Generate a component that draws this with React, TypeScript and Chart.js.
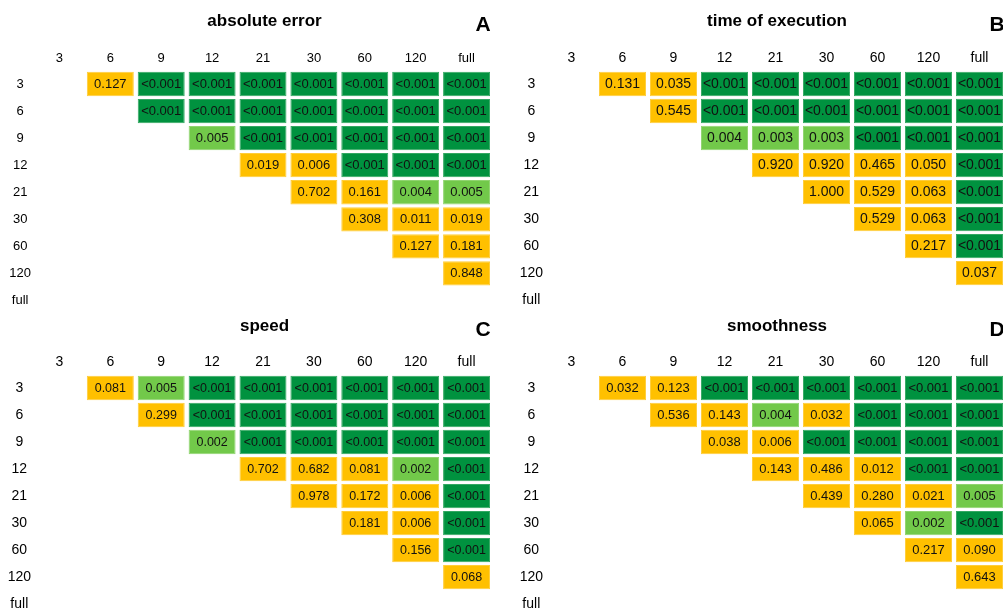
import React, { useEffect, useRef } from "react";
import { Chart, registerables } from "chart.js";

Chart.register(...registerables);

// Factor levels (columns and rows share the same labels)
const levels: string[] = ["3", "6", "9", "12", "21", "30", "60", "120", "full"];

// Upper-triangular p-values: row i starts at column i+1
const absoluteError: string[][] = [
  ["0.127", "<0.001", "<0.001", "<0.001", "<0.001", "<0.001", "<0.001", "<0.001"],
  ["<0.001", "<0.001", "<0.001", "<0.001", "<0.001", "<0.001", "<0.001"],
  ["0.005", "<0.001", "<0.001", "<0.001", "<0.001", "<0.001"],
  ["0.019", "0.006", "<0.001", "<0.001", "<0.001"],
  ["0.702", "0.161", "0.004", "0.005"],
  ["0.308", "0.011", "0.019"],
  ["0.127", "0.181"],
  ["0.848"],
];

const timeOfExecution: string[][] = [
  ["0.131", "0.035", "<0.001", "<0.001", "<0.001", "<0.001", "<0.001", "<0.001"],
  ["0.545", "<0.001", "<0.001", "<0.001", "<0.001", "<0.001", "<0.001"],
  ["0.004", "0.003", "0.003", "<0.001", "<0.001", "<0.001"],
  ["0.920", "0.920", "0.465", "0.050", "<0.001"],
  ["1.000", "0.529", "0.063", "<0.001"],
  ["0.529", "0.063", "<0.001"],
  ["0.217", "<0.001"],
  ["0.037"],
];

const speed: string[][] = [
  ["0.081", "0.005", "<0.001", "<0.001", "<0.001", "<0.001", "<0.001", "<0.001"],
  ["0.299", "<0.001", "<0.001", "<0.001", "<0.001", "<0.001", "<0.001"],
  ["0.002", "<0.001", "<0.001", "<0.001", "<0.001", "<0.001"],
  ["0.702", "0.682", "0.081", "0.002", "<0.001"],
  ["0.978", "0.172", "0.006", "<0.001"],
  ["0.181", "0.006", "<0.001"],
  ["0.156", "<0.001"],
  ["0.068"],
];

const smoothness: string[][] = [
  ["0.032", "0.123", "<0.001", "<0.001", "<0.001", "<0.001", "<0.001", "<0.001"],
  ["0.536", "0.143", "0.004", "0.032", "<0.001", "<0.001", "<0.001"],
  ["0.038", "0.006", "<0.001", "<0.001", "<0.001", "<0.001"],
  ["0.143", "0.486", "0.012", "<0.001", "<0.001"],
  ["0.439", "0.280", "0.021", "0.005"],
  ["0.065", "0.002", "<0.001"],
  ["0.217", "0.090"],
  ["0.643"],
];

const DARK = "#00923F";
const DARK_EDGE = "#33A862";
const LIGHT = "#72C94A";
const LIGHT_EDGE = "#90D46F";
const ORANGE = "#FFC000";
const ORANGE_EDGE = "#FFCD3A";
const FONT = "'Liberation Sans', Arial, Helvetica, sans-serif";

function cellFill(v: string | null): string {
  if (!v) return "rgba(0,0,0,0)";
  if (v.startsWith("<")) return DARK;
  return parseFloat(v) < 0.05 / 9 ? LIGHT : ORANGE;
}
function cellEdge(v: string | null): string {
  if (!v) return "rgba(0,0,0,0)";
  if (v.startsWith("<")) return DARK_EDGE;
  return parseFloat(v) < 0.05 / 9 ? LIGHT_EDGE : ORANGE_EDGE;
}

function cellValue(rows: string[][], i: number, j: number): string | null {
  if (j <= i) return null;
  const r = rows[i];
  if (!r) return null;
  const v = r[j - i - 1];
  return v === undefined ? null : v;
}

const cellTextPlugin = {
  id: "cellText",
  afterDatasetsDraw(chart: any, _args: any, opts: any) {
    const ctx = chart.ctx;
    ctx.save();
    ctx.font = `${opts.size}px ${FONT}`;
    ctx.textAlign = "center";
    ctx.textBaseline = "middle";
    ctx.fillStyle = "#111";
    chart.data.datasets.forEach((ds: any, i: number) => {
      const meta = chart.getDatasetMeta(i);
      meta.data.forEach((el: any, j: number) => {
        const txt = ds.texts[j];
        if (!txt) return;
        const p = el.getProps(["x", "y", "base"], true);
        ctx.fillText(txt, p.x, (p.y + p.base) / 2 + 0.5);
      });
    });
    ctx.restore();
  },
};

const headerPlugin = {
  id: "header",
  afterDraw(chart: any, _args: any, opts: any) {
    const ctx = chart.ctx;
    const ca = chart.chartArea;
    ctx.save();
    ctx.fillStyle = "#000";
    ctx.textBaseline = "middle";
    ctx.textAlign = "center";
    ctx.font = `bold 17px ${FONT}`;
    ctx.fillText(opts.title, (ca.left + ca.right) / 2 + 1.5, opts.titleY);
    ctx.font = `bold 21px ${FONT}`;
    ctx.fillText(opts.letter, opts.letterX, opts.letterY);
    ctx.restore();
  },
};

type PanelProps = {
  title: string;
  letter: string;
  rows: string[][];
  left: number;
  top: number;
  width: number;
  height: number;
  axisWidth: number;
  padRight: number;
  tickSize: number;
  cellSize: number;
  letterX: number;
  titleY: number;
  letterY: number;
};

function Panel(p: PanelProps) {
  const ref = useRef<HTMLCanvasElement | null>(null);
  useEffect(() => {
    if (!ref.current) return;
    const datasets = levels.map((rowLabel, i) => {
      const vals = levels.map((_, j) => cellValue(p.rows, i, j));
      return {
        label: rowLabel,
        data: vals.map((v) => (v ? [i - 0.45, i + 0.45] : null)),
        texts: vals,
        backgroundColor: vals.map(cellFill),
        borderColor: vals.map(cellEdge),
        borderWidth: 1,
        borderSkipped: false,
        grouped: false,
        barPercentage: 0.923,
        categoryPercentage: 1,
      };
    });
    const chart = new Chart(ref.current, {
      type: "bar",
      data: { labels: levels, datasets: datasets as any },
      plugins: [cellTextPlugin as any, headerPlugin as any],
      options: {
        animation: false,
        responsive: false,
        maintainAspectRatio: false,
        events: [],
        layout: { autoPadding: false, padding: { top: 40, left: 0, right: p.padRight, bottom: 11 } },
        plugins: {
          legend: { display: false },
          tooltip: { enabled: false },
          title: { display: false },
          cellText: { size: p.cellSize },
          header: { title: p.title, letter: p.letter, titleY: p.titleY, letterX: p.letterX, letterY: p.letterY },
        } as any,
        scales: {
          x: {
            type: "category",
            position: "top",
            offset: true,
            grid: { display: false, drawTicks: false, tickLength: 0 },
            border: { display: false },
            ticks: { color: "#000", font: { size: p.tickSize, family: FONT }, padding: 4, maxRotation: 0, autoSkip: false },
            afterFit: (s: any) => {
              s.height = 30.5;
            },
          },
          y: {
            type: "linear",
            reverse: true,
            min: -0.5,
            max: 8.5,
            afterBuildTicks: (s: any) => {
              s.ticks = levels.map((_, i) => ({ value: i }));
            },
            grid: { display: false, drawTicks: false, tickLength: 0 },
            border: { display: false },
            ticks: {
              color: "#000",
              font: { size: p.tickSize, family: FONT },
              padding: 3,
              crossAlign: "center",
              autoSkip: false,
              callback: (v: any) => levels[v as number] ?? "",
            },
            afterFit: (s: any) => {
              s.width = p.axisWidth;
            },
          },
        },
      } as any,
    });
    return () => chart.destroy();
  }, []);
  return (
    <div style={{ position: "absolute", left: p.left, top: p.top, width: p.width, height: p.height }}>
      <canvas ref={ref} width={p.width} height={p.height} style={{ display: "block" }} />
    </div>
  );
}

export default function App() {
  useEffect(() => {
    document.body.style.margin = "0";
    document.body.style.overflow = "hidden";
  }, []);
  return (
    <div style={{ position: "relative", width: 1003, height: 610, overflow: "hidden", background: "#fff" }}>
      <Panel title="absolute error" letter="A" rows={absoluteError} left={0} top={0} width={501} height={325}
        axisWidth={34} padRight={9} tickSize={13} cellSize={13} letterX={483} titleY={21} letterY={25} />
      <Panel title="time of execution" letter="B" rows={timeOfExecution} left={501} top={0} width={510} height={325}
        axisWidth={45} padRight={6} tickSize={14} cellSize={14} letterX={496} titleY={21} letterY={25} />
      <Panel title="speed" letter="C" rows={speed} left={0} top={304} width={501} height={325}
        axisWidth={34} padRight={9} tickSize={14} cellSize={12.5} letterX={483} titleY={22} letterY={26} />
      <Panel title="smoothness" letter="D" rows={smoothness} left={501} top={304} width={510} height={325}
        axisWidth={45} padRight={6} tickSize={14} cellSize={13} letterX={496} titleY={22} letterY={26} />
    </div>
  );
}
